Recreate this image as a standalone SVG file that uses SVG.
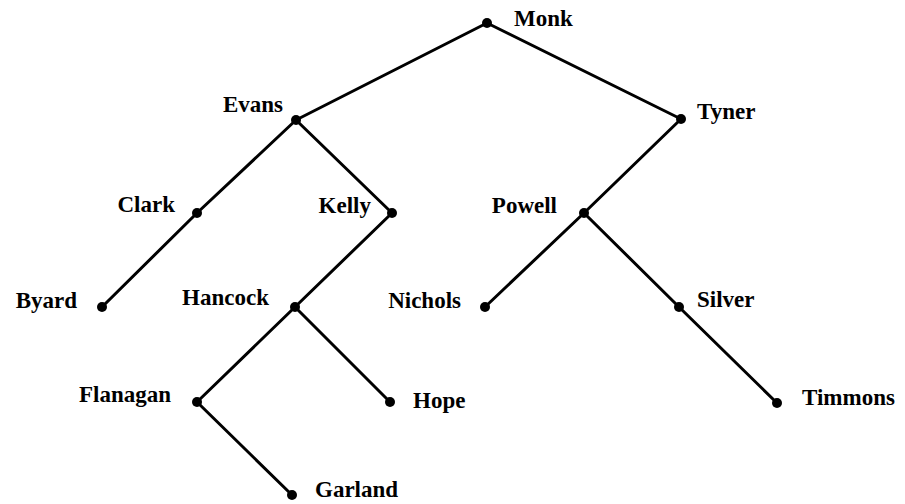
<svg xmlns="http://www.w3.org/2000/svg" width="905" height="504" viewBox="0 0 905 504">
<style>
.e{stroke:#000;stroke-width:3;stroke-linecap:round;fill:none}
.d{fill:#000}
text{font-family:"Liberation Serif","Times New Roman",serif;font-weight:bold;font-size:23px;fill:#000}
.l{text-anchor:end}
</style>
<rect width="905" height="504" fill="#fff"/>
<g id="connectors">
<line class="e" x1="487" y1="23" x2="296" y2="120"/>
<line class="e" x1="487" y1="23" x2="681" y2="119"/>
<line class="e" x1="296" y1="120" x2="197" y2="213"/>
<line class="e" x1="296" y1="120" x2="392" y2="213"/>
<line class="e" x1="681" y1="119" x2="584" y2="213"/>
<line class="e" x1="197" y1="213" x2="102" y2="307"/>
<line class="e" x1="392" y1="213" x2="295" y2="307"/>
<line class="e" x1="584" y1="213" x2="485" y2="307"/>
<line class="e" x1="584" y1="213" x2="679" y2="307"/>
<line class="e" x1="295" y1="307" x2="197" y2="402"/>
<line class="e" x1="295" y1="307" x2="390" y2="402"/>
<line class="e" x1="197" y1="402" x2="292" y2="495"/>
<line class="e" x1="679" y1="307" x2="777" y2="403"/>
</g>
<g id="Monk"><circle class="d" cx="487" cy="23" r="5"/><text x="514" y="26">Monk</text></g>
<g id="Evans"><circle class="d" cx="296" cy="120" r="5"/><text class="l" x="283" y="112">Evans</text></g>
<g id="Tyner"><circle class="d" cx="681" cy="119" r="5"/><text x="697" y="119">Tyner</text></g>
<g id="Clark"><circle class="d" cx="197" cy="213" r="5"/><text class="l" x="175" y="212">Clark</text></g>
<g id="Kelly"><circle class="d" cx="392" cy="213" r="5"/><text class="l" x="371" y="213">Kelly</text></g>
<g id="Powell"><circle class="d" cx="584" cy="213" r="5"/><text class="l" x="557" y="213">Powell</text></g>
<g id="Byard"><circle class="d" cx="102" cy="307" r="5"/><text class="l" x="77" y="308">Byard</text></g>
<g id="Hancock"><circle class="d" cx="295" cy="307" r="5"/><text class="l" x="269" y="305">Hancock</text></g>
<g id="Nichols"><circle class="d" cx="485" cy="307" r="5"/><text class="l" x="461" y="308">Nichols</text></g>
<g id="Silver"><circle class="d" cx="679" cy="307" r="5"/><text x="697" y="307">Silver</text></g>
<g id="Flanagan"><circle class="d" cx="197" cy="402" r="5"/><text class="l" x="171" y="402">Flanagan</text></g>
<g id="Hope"><circle class="d" cx="390" cy="402" r="5"/><text x="413" y="408">Hope</text></g>
<g id="Timmons"><circle class="d" cx="777" cy="403" r="5"/><text x="802" y="405">Timmons</text></g>
<g id="Garland"><circle class="d" cx="292" cy="495" r="5"/><text x="315" y="497">Garland</text></g>
</svg>
